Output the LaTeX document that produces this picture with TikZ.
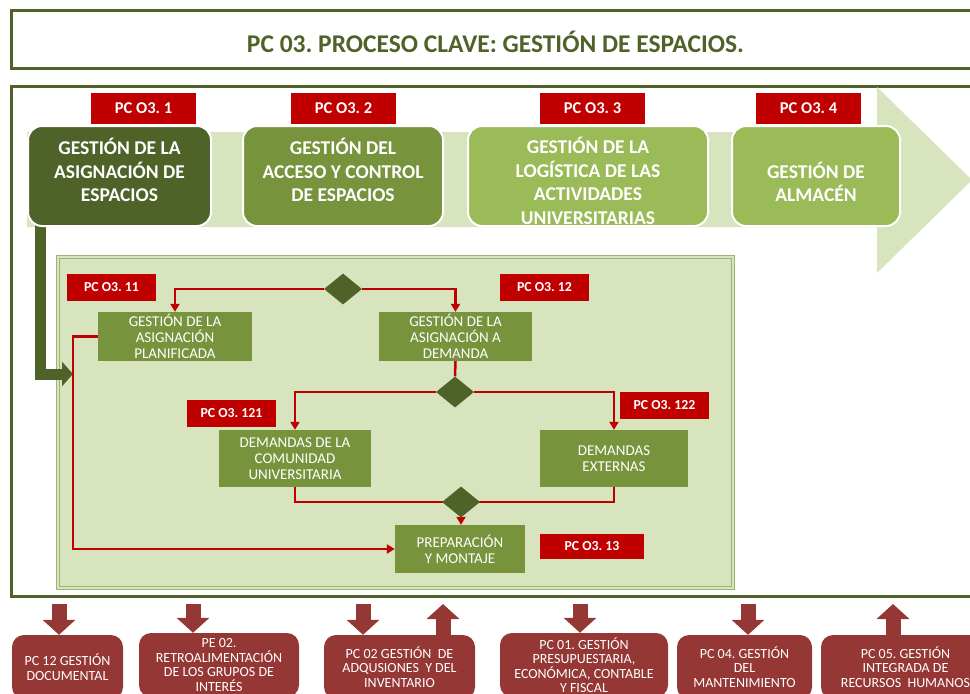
\documentclass[tikz,border=0pt]{standalone}
\usepackage{fontspec}
\setmainfont{Carlito}
\usetikzlibrary{shapes.geometric,arrows.meta,calc}
\definecolor{cOlive}{HTML}{4F6228}
\definecolor{cMid}{HTML}{77933C}
\definecolor{cLight}{HTML}{9BBB59}
\definecolor{cPale}{HTML}{D7E4BD}
\definecolor{cRed}{HTML}{C00000}
\definecolor{cDRed}{HTML}{953735}
\definecolor{cInnerB}{HTML}{9DB572}
\pgfdeclarelayer{back}
\pgfdeclarelayer{lines}
\pgfsetlayers{back,lines,main}
\frenchspacing
\tikzset{
 frame/.style={draw=cOlive, line width=3pt, fill=white, inner sep=0pt},
 topbox/.style={rounded corners=14pt, draw=white, line width=2pt, inner sep=0pt, minimum height=100pt},
 toptext/.style={text=white, font=\fontsize{19.5}{23.5}\selectfont\bfseries, align=center, inner sep=0pt},
 redlabel/.style={fill=cRed, text=white, font=\fontsize{16.5}{18}\selectfont\bfseries, inner sep=0pt, minimum width=105pt, minimum height=31pt},
 redsmall/.style={fill=cRed, text=white, font=\fontsize{13.8}{15}\selectfont\bfseries, inner sep=0pt, minimum width=89pt, minimum height=27pt},
 procbox/.style={fill=cMid, text=white, font=\fontsize{15}{16}\selectfont, align=center, inner sep=0pt},
 diam/.style={diamond, fill=cOlive, inner sep=0pt, minimum width=38pt, minimum height=31pt},
 redline/.style={draw=cRed, line width=2.5pt, -{Triangle[width=9pt,length=8pt]}},
 redplain/.style={draw=cRed, line width=2.5pt},
 greenarrow/.style={draw=cOlive, line width=11pt, -{Triangle[width=24pt,length=11pt]}},
 botbox/.style={fill=cDRed, rounded corners=12pt, text=white, font=\fontsize{14}{14.5}\selectfont, align=center, inner sep=0pt, minimum height=64pt},
 blockarrow/.style={draw=cDRed, line width=15pt, -{Triangle[width=32pt,length=15pt]}},
}
\begin{document}
\begin{tikzpicture}[x=1pt,y=-1pt]
\useasboundingbox (0,0) rectangle (970,694);
\begin{pgfonlayer}{back}
 \node[frame, minimum width=979pt, minimum height=58pt] (titlebox) at (500.5,39) {};
 \node[frame, minimum width=979pt, minimum height=510pt] (mainbox) at (500.5,341) {};
 \fill[cPale] (27,132) -- (877,132) -- (877,87) -- (972,180) -- (877,273) -- (877,227) -- (27,227) -- cycle;
 \node[fill=cPale, draw=cInnerB, line width=0.8pt, double=cPale, double distance=1.6pt, minimum width=675pt, minimum height=331pt, inner sep=0pt] (inner) at (395.5,422.5) {};
\end{pgfonlayer}

\node[text=cOlive, font=\fontsize{25.5}{29}\selectfont\bfseries, inner sep=0pt] (title) at (495.5,42) {PC 03. PROCESO CLAVE: GESTIÓN DE ESPACIOS.};

% top boxes
\node[topbox, fill=cOlive, minimum width=183pt] (g1) at (119.5,176) {};
\node[topbox, fill=cMid, minimum width=200pt] (g2) at (343,176) {};
\node[topbox, fill=cLight, minimum width=240pt] (g3) at (588,176) {};
\node[topbox, fill=cLight, minimum width=168pt] (g4) at (816,176) {};
\node[toptext] (t1) at (119.5,170) {GESTIÓN DE LA\\ASIGNACIÓN DE\\ESPACIOS};
\node[toptext] (t2) at (343,170) {GESTIÓN DEL\\ACCESO Y CONTROL\\DE ESPACIOS};
\node[toptext] (t3) at (588,181) {GESTIÓN DE LA\\LOGÍSTICA DE LAS\\ACTIVIDADES\\UNIVERSITARIAS};
\node[toptext] (t4) at (816,182) {GESTIÓN DE\\ALMACÉN};

\node[redlabel] (l1) at (143.5,108.5) {PC O3. 1};
\node[redlabel] (l2) at (343.5,108.5) {PC O3. 2};
\node[redlabel] (l3) at (592.5,108.5) {PC O3. 3};
\node[redlabel] (l4) at (808.5,108.5) {PC O3. 4};

% inner labels
\node[redsmall] (l11) at (111.5,287.5) {PC O3. 11};
\node[redsmall] (l12) at (544.5,287.5) {PC O3. 12};
\node[redsmall] (l121) at (231.5,413.5) {PC O3. 121};
\node[redsmall] (l122) at (664.5,405.5) {PC O3. 122};
\node[redsmall, minimum width=104pt, minimum height=25pt] (l13) at (592,546.5) {PC O3. 13};

% process boxes
\node[procbox, minimum width=154pt, minimum height=49pt] (p11) at (175,336.5) {GESTIÓN DE LA\\ASIGNACIÓN\\PLANIFICADA};
\node[procbox, minimum width=153pt, minimum height=49pt] (p12) at (455.5,336.5) {GESTIÓN DE LA\\ASIGNACIÓN A\\DEMANDA};
\node[procbox, minimum width=152pt, minimum height=57pt] (pcu) at (295,458.5) {DEMANDAS DE LA\\COMUNIDAD\\UNIVERSITARIA};
\node[procbox, minimum width=148pt, minimum height=57pt] (pext) at (614,458.5) {DEMANDAS\\EXTERNAS};
\node[procbox, minimum width=130pt, minimum height=48pt] (prep) at (460,549) {PREPARACIÓN\\Y MONTAJE};

% diamonds
\node[diam] (d1) at (343,289) {};
\node[diam] (d2) at (455,392) {};
\node[diam] (d3) at (461,502) {};

\coordinate (gend) at (73,374);
\coordinate (lft) at (73,336.5);

\begin{pgfonlayer}{lines}
 \draw[greenarrow] ([shift={(13,-4)}]g1.south west) |- (gend);
 \draw[redline] (d1.west) -| (p11.north);
 \draw[redline] (d1.east) -| (p12.north);
 \draw[redplain] (p12.south) -- (d2.north);
 \draw[redline] (d2.west) -| (pcu.north);
 \draw[redline] (d2.east) -| (pext.north);
 \draw[redplain] (pcu.south) |- (d3.center) -| (pext.south);
 \draw[redline] (d3.south) -- (d3.south |- prep.north);
 \draw[redline] (p11.west) -- (lft) |- (prep.west);
\end{pgfonlayer}

% bottom boxes
\node[botbox, minimum width=111pt] (bA) at (67.5,667) {PC 12 GESTIÓN\\DOCUMENTAL};
\node[botbox, minimum width=160pt] (bB) at (219,665) {PE 02.\\RETROALIMENTACIÓN\\DE LOS GRUPOS DE\\INTERÉS};
\node[botbox, minimum width=151pt] (bC) at (399.5,667) {PC 02 GESTIÓN~ DE\\ADQUSIONES~ Y DEL\\INVENTARIO};
\node[botbox, minimum width=168pt] (bD) at (584,665) {PC 01. GESTIÓN\\PRESUPUESTARIA,\\ECONÓMICA, CONTABLE\\Y FISCAL};
\node[botbox, minimum width=135pt] (bE) at (744.5,667) {PC 04. GESTIÓN\\DEL\\MANTENIMIENTO};
\node[botbox, minimum width=169pt] (bF) at (905.5,667) {PC 05. GESTIÓN\\INTEGRADA DE\\RECURSOS~ HUMANOS};

\coordinate (aA) at (59,604);
\coordinate (aB) at (193,604);
\coordinate (aC) at (363,604);
\coordinate (uC) at (443,604);
\coordinate (aD) at (580,604);
\coordinate (aE) at (748,604);
\coordinate (uF) at (893,604);
\begin{pgfonlayer}{lines}
 \draw[blockarrow] (aA) -- (aA |- bA.north);
 \draw[blockarrow] (aB) -- (aB |- bB.north);
 \draw[blockarrow] (aC) -- (aC |- bC.north);
 \draw[blockarrow] (uC |- bC.north) -- (uC);
 \draw[blockarrow] (aD) -- (aD |- bD.north);
 \draw[blockarrow] (aE) -- (aE |- bE.north);
 \draw[blockarrow] (uF |- bF.north) -- (uF);
\end{pgfonlayer}
\end{tikzpicture}
\end{document}
